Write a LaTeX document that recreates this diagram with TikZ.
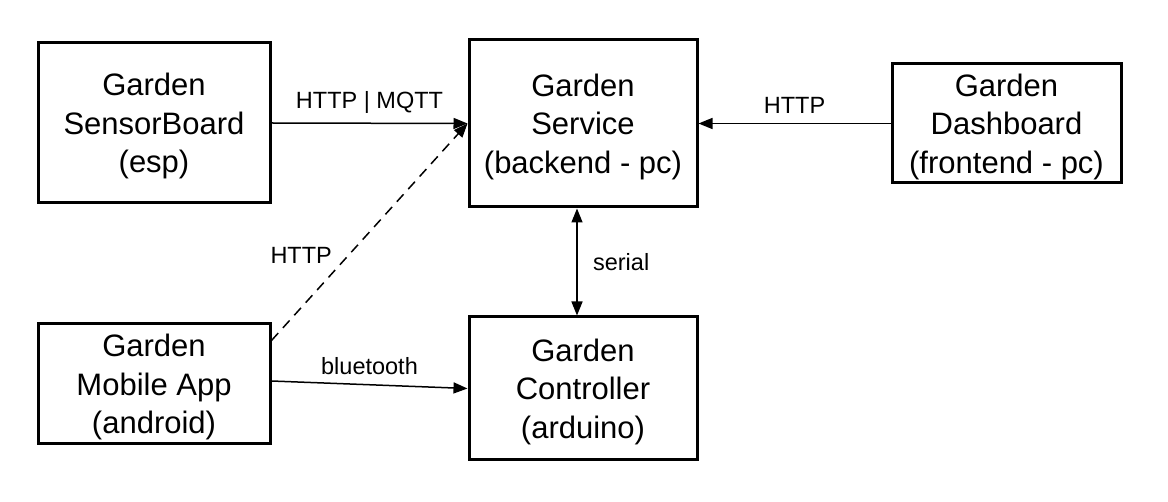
\documentclass[tikz,border=0pt]{standalone}
\usepackage{fontspec}
\setmainfont{Liberation Sans}
\usetikzlibrary{arrows.meta}
\tikzset{
	block/.style={draw, line width=3pt, align=center, inner sep=0pt, text depth=-7pt, font=\fontsize{31}{38.5}\selectfont},
	link/.style={line width=1.5pt, -{Triangle[length=14pt, width=11pt]}},
	lbl/.style={font=\fontsize{23.5}{28}\selectfont}
}

\begin{document}
\begin{tikzpicture}[x=1pt, y=-1pt]
	\useasboundingbox[fill=white] (0, 0) rectangle (1168, 502);
	\node[block, minimum width=232pt, minimum height=160pt] (sensor) at (154, 123) {Garden\\SensorBoard\\(esp)};
	\node[block, minimum width=228pt, minimum height=167pt] (service) at (583, 123.5) {Garden\\Service\\(backend - pc)};
	\node[block, minimum width=229pt, minimum height=119pt] (dashboard) at (1006.5, 123.5) {Garden\\Dashboard\\(frontend - pc)};
	\node[block, minimum width=232pt, minimum height=120pt] (mobile) at (154, 384) {Garden\\Mobile App\\(android)};
	\node[block, minimum width=228pt, minimum height=143pt] (controller) at (583, 388.5) {Garden\\Controller\\(arduino)};
	\draw[link] (sensor.east) -- (service.west) node[lbl, midway, above=6pt] {HTTP | MQTT};
	\draw[link] (dashboard.west) -- (service.east) node[lbl, midway, above=6pt] {HTTP};
	\draw[link, {Triangle[length=14pt, width=11pt]}-{Triangle[length=14pt, width=11pt]}] ([xshift=-6pt]service.south) -- ([xshift=-6pt]controller.north) node[lbl, midway, right=12pt] {serial};
	\draw[link] ([yshift=3pt]mobile.east) -- (controller.west) node[lbl, midway, above=6pt] {bluetooth};
	\draw[link, dash pattern=on 10pt off 7pt] ([yshift=-18pt]mobile.north east) -- (service.west) node[lbl, pos=0.39, left=12pt] {HTTP};
\end{tikzpicture}
\end{document}
